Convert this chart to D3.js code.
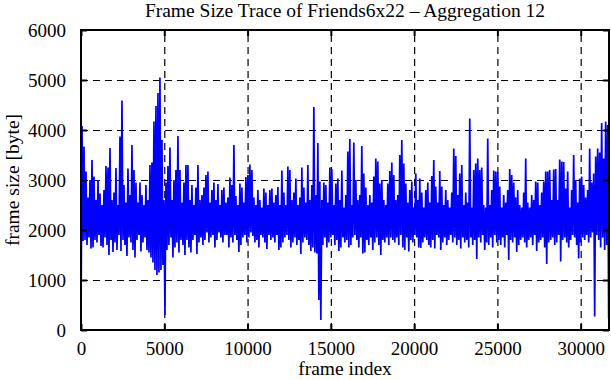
<!DOCTYPE html>
<html>
<head>
<meta charset="utf-8">
<script src="https://cdn.jsdelivr.net/npm/d3@7/dist/d3.min.js"></script>
<style>
  html, body { margin: 0; padding: 0; background: #fff; }
  svg { display: block; }
  text { font-family: "Liberation Serif", "Times New Roman", serif; fill: #000; }
</style>
</head>
<body>
<svg id="chart" width="611" height="380"></svg>
<script>
// ---------- data ----------
const titleText = "Frame Size Trace of Friends6x22 \u2013 Aggregation 12";
const xLabelText = "frame index";
const yLabelText = "frame size [byte]";
const xTickValues = [0, 5000, 10000, 15000, 20000, 25000, 30000];
const yTickValues = [0, 1000, 2000, 3000, 4000, 5000, 6000];
const xMax = 31700;
const sampleStep = 60; // frames between successive plotted samples

// local minima of the trace (bytes), one every 2*sampleStep frames starting at frame 0
const lowValues = [
  0,1780,1800,1700,1850,1630,1650,1800,1750,1900,
  1680,1650,1850,1700,1500,1800,1560,1750,1600,1900,
  1580,1800,1700,1480,1850,1750,1600,1450,1800,1900,
  1570,1750,1850,1600,1550,1450,1350,1200,1100,1150,
  1200,1300,300,1600,1700,1850,1450,1650,1750,1550,
  1800,1700,1500,1800,1650,1550,1800,1900,1520,1750,
  1850,1700,1800,1950,1750,1850,1900,1650,1800,1950,
  1850,1750,1900,1900,1650,1850,1750,1900,1800,1560,
  1700,1850,1900,1750,1850,1950,1880,1750,1800,1650,
  1900,1850,1750,1620,1900,1800,1850,1750,1900,1600,
  1650,1750,1850,1900,1800,1650,1750,1850,1700,1800,
  1520,1750,1850,1800,1700,1580,1650,1550,1530,600,
  200,1700,1850,1650,1750,1850,1900,1700,1800,1580,
  1650,1850,1750,1800,1650,1700,1850,1900,1800,1650,
  1850,1530,1550,1800,1700,1850,1600,1750,1850,1700,
  1500,1800,1750,1850,1700,1850,1800,1750,1850,1700,
  1900,1650,1600,1850,1570,1800,1750,1900,1850,1650,
  1640,1750,1850,1800,1700,1650,1800,1630,1900,1850,
  1600,1750,1850,1700,1800,1900,1750,1850,1700,1800,
  1630,1850,1750,1800,1650,1850,1700,1800,1420,1850,
  1750,1900,1600,1750,1700,1850,1650,1900,1750,1800,
  1700,1850,1650,1900,1400,1800,1750,1850,1560,1700,
  1800,1850,1750,1650,1800,1850,1700,1900,1580,1750,
  1800,1850,1650,1320,1750,1800,1850,1700,1750,1900,
  1370,1800,1850,1750,1650,1800,1900,1850,1700,1430,
  1750,1850,1800,1900,1750,1850,1950,270,1900,1800,
  1650,1850,1600,1700,230
];

// local maxima of the trace (bytes), in between the minima
const highValues = [
  4080,3670,3170,2650,3000,3400,3070,2600,3000,2730,
  2500,2800,3280,3250,3640,2600,2750,3240,2500,3870,
  4590,2900,2550,3230,2700,3700,3200,2950,2550,2950,
  2700,2500,2900,2600,3300,3350,4170,4480,4740,5050,
  3800,2600,2950,3280,3650,2600,3000,3200,3880,3200,
  2550,2950,3300,3300,2600,2900,2500,2850,3300,2600,
  2700,2850,3100,3170,2550,2800,2950,2600,2920,2500,
  2800,2850,2550,2650,3050,2900,3700,2680,2500,2930,
  2850,2550,3060,3100,3310,3200,2650,2500,2800,2600,
  2450,2830,2750,2500,2800,2830,2550,2700,2860,2500,
  3190,2750,2500,3270,3200,2600,2750,3030,2500,2650,
  3250,2850,2550,3300,2600,2900,4460,2700,3740,2970,
  2600,2950,2900,2550,3250,3220,2500,2930,3030,2600,
  3190,2450,2700,3570,3820,2500,3750,3000,2600,2700,
  3680,3130,2850,2500,2700,2550,3070,3430,3370,2930,
  3000,2600,2500,2930,3180,3350,3100,2600,2700,3500,
  3800,3330,2930,2550,2800,2970,2450,3130,2600,3030,
  2750,2450,2800,2950,2550,3080,3400,2870,2550,3180,
  2870,2500,2800,2600,2450,2750,3630,3480,2700,3130,
  3300,2500,2750,2550,4230,2450,3200,3330,3430,3200,
  3250,2500,2450,3830,2500,2800,3190,3170,3160,2870,
  2450,2700,2550,2800,3220,3100,2950,2650,2800,2500,
  2450,2750,3430,2550,2450,2700,2600,2970,2950,2500,
  2750,2970,3170,3170,3200,2600,3210,3220,2600,3410,
  3370,3360,2830,3170,2450,2800,3500,3000,2550,3030,
  3070,2900,2650,2800,3630,2950,3130,3470,3630,3550,
  4140,3430,4170,4100
];

// interleave minima and maxima into one trace
const trace = [];
lowValues.forEach((lo, i) => {
  trace.push({ frame: 2 * i * sampleStep, size: lo });
  if (i < highValues.length) trace.push({ frame: (2 * i + 1) * sampleStep, size: highValues[i] });
});

// ---------- layout ----------
const svg = d3.select("#chart");
const plot = { left: 81, right: 609, top: 30, bottom: 330 };
const x = d3.scaleLinear().domain([0, xMax]).range([plot.left, plot.right]);
const y = d3.scaleLinear().domain([0, 6000]).range([plot.bottom, plot.top]);
const fontSize = 19;

// grid (dashed)
const gridX = svg.append("g").attr("transform", `translate(0,${plot.bottom})`)
  .call(d3.axisBottom(x).tickValues(xTickValues.filter(v => v > 0 && v < xMax))
    .tickSize(-(plot.bottom - plot.top)).tickFormat(""));
const gridY = svg.append("g").attr("transform", `translate(${plot.left},0)`)
  .call(d3.axisLeft(y).tickValues(yTickValues.filter(v => v > 0 && v < 6000))
    .tickSize(-(plot.right - plot.left)).tickFormat(""));
[gridX, gridY].forEach(g => {
  g.select(".domain").remove();
  g.selectAll("line").attr("stroke", "#000").attr("stroke-width", 1.2).attr("stroke-dasharray", "7,5");
});

// data trace
svg.append("path")
  .datum(trace)
  .attr("fill", "none")
  .attr("stroke", "#0000ff")
  .attr("stroke-width", 1.7)
  .attr("stroke-linejoin", "miter")
  .attr("d", d3.line().x(d => x(d.frame)).y(d => y(d.size)));

// axes with inward ticks on all sides
const tickLen = 6;
const axB = svg.append("g").attr("transform", `translate(0,${plot.bottom})`)
  .call(d3.axisBottom(x).tickValues(xTickValues).tickSizeInner(-tickLen).tickSizeOuter(0)
    .tickPadding(tickLen + 6).tickFormat(d3.format("d")));
const axT = svg.append("g").attr("transform", `translate(0,${plot.top})`)
  .call(d3.axisTop(x).tickValues(xTickValues).tickSizeInner(-tickLen).tickSizeOuter(0).tickFormat(""));
const axL = svg.append("g").attr("transform", `translate(${plot.left},0)`)
  .call(d3.axisLeft(y).tickValues(yTickValues).tickSizeInner(-tickLen).tickSizeOuter(0)
    .tickPadding(tickLen + 9).tickFormat(d3.format("d")));
const axR = svg.append("g").attr("transform", `translate(${plot.right},0)`)
  .call(d3.axisRight(y).tickValues(yTickValues).tickSizeInner(-tickLen).tickSizeOuter(0).tickFormat(""));
[axB, axT, axL, axR].forEach(g => {
  g.select(".domain").remove();
  g.selectAll("line").attr("stroke", "#000").attr("stroke-width", 2);
  g.selectAll("text").attr("font-size", fontSize)
    .attr("font-family", "'Liberation Serif', 'Times New Roman', serif").attr("fill", "#000");
});

// border
svg.append("rect")
  .attr("x", plot.left).attr("y", plot.top)
  .attr("width", plot.right - plot.left).attr("height", plot.bottom - plot.top)
  .attr("fill", "none").attr("stroke", "#000").attr("stroke-width", 2);

// title and labels
svg.append("text").attr("x", (plot.left + plot.right) / 2).attr("y", 17)
  .attr("text-anchor", "middle").attr("font-size", 19.5).text(titleText);
svg.append("text").attr("x", (plot.left + plot.right) / 2).attr("y", 375)
  .attr("text-anchor", "middle").attr("font-size", 19.5).text(xLabelText);
svg.append("text")
  .attr("transform", `translate(19,${(plot.top + plot.bottom) / 2}) rotate(-90)`)
  .attr("text-anchor", "middle").attr("font-size", 19.5).text(yLabelText);
</script>
</body>
</html>
